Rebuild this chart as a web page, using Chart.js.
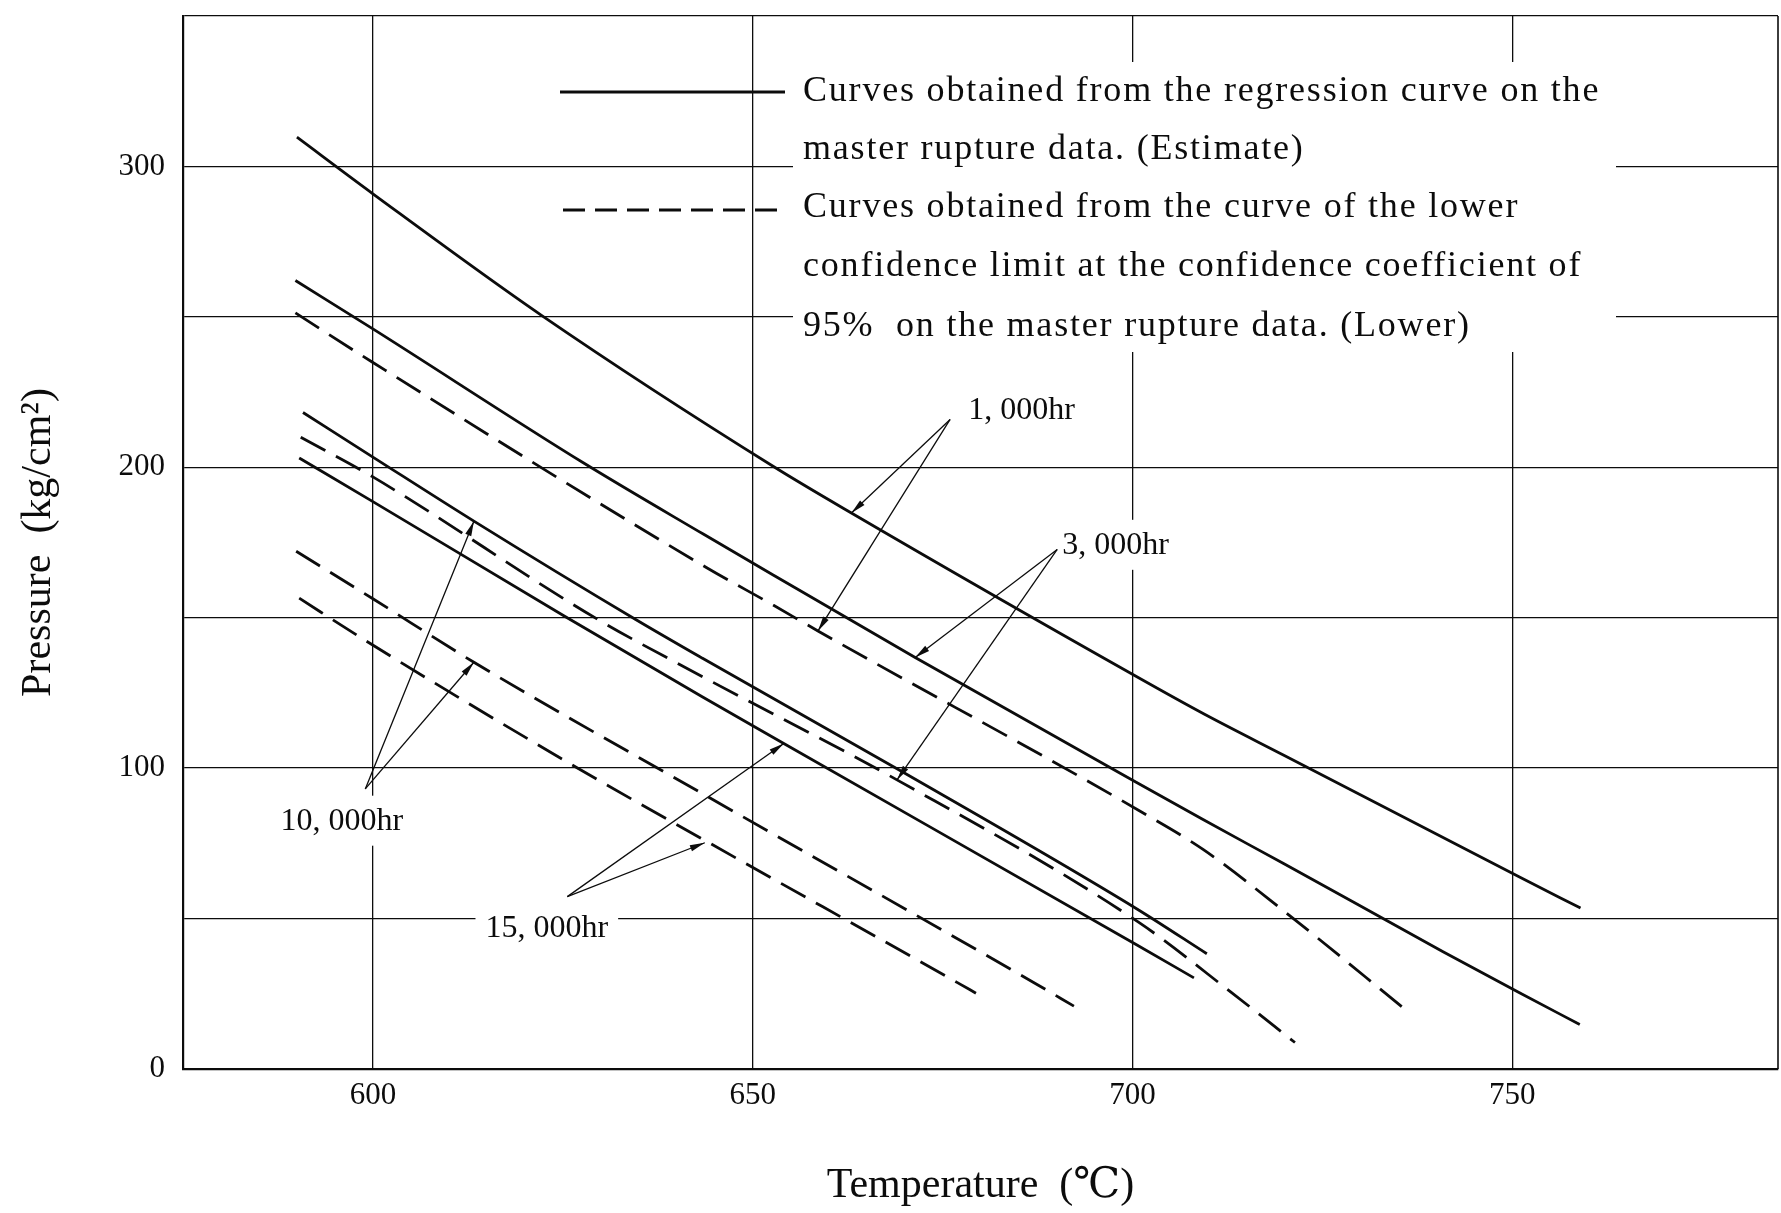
<!DOCTYPE html>
<html>
<head>
<meta charset="utf-8">
<title>Rupture pressure vs temperature</title>
<script src="https://cdn.jsdelivr.net/npm/chart.js@4.4.1/dist/chart.umd.min.js"></script>
<style>
  html, body { margin: 0; padding: 0; background: #fff; }
  #chartBox { width: 1781px; height: 1213px; }
</style>
</head>
<body>
<div id="chartBox"><canvas id="pressureChart"></canvas></div>
<script>
const SERIF = "'Liberation Serif', 'DejaVu Serif', 'Noto Sans CJK JP', serif";
const INK = "#0c0c0c";

// [temperature °C, pressure kg/cm²] along each curve
// regression curves (Estimate)
const est1000 = [[590, 309.7], [600, 290.9], [622.2, 250.5], [652.9, 200], [663, 184.8], [700.7, 130.2], [709.5, 117.9], [720, 104.2], [750.9, 63.9], [759, 53.5]];
const est3000 = [[589.8, 262.1], [600, 246], [627.7, 201.5], [643.5, 177.8], [652.7, 164.2], [671.4, 136.8], [700.5, 95.3], [709.3, 82.9], [719.9, 68.3], [740.9, 39], [750.9, 25.4], [758.9, 14.8]];
const est10000 = [[590.8, 218.2], [600, 203.4], [613.3, 182.1], [634.6, 149.4], [643.4, 136.5], [669.7, 98.8], [700.6, 53.2], [709.8, 38.3]];
const est15000 = [[590.3, 203.1], [600, 188.6], [625.3, 150.4], [643.3, 123.8], [654.1, 108.2], [700.6, 41.2], [708.1, 30.3]];

// lower confidence limit curves (Lower)
const low1000 = [[589.8, 251.3], [599.9, 235], [643.9, 166.7], [652.7, 154.2], [658.6, 145.6], [700.8, 86], [709.3, 73], [719.8, 52.8], [736.2, 19.2]];
const low3000 = [[590.5, 210], [600, 196.8], [629.5, 149.6], [643.4, 130.4], [669, 96.1], [700.8, 48.8], [713.1, 25.3], [721.4, 8.8]];
const low10000 = [[589.9, 172.1], [600, 156.3], [613.3, 135.2], [644.1, 90.5], [687.1, 28.6], [692.3, 20.9]];
const low15000 = [[590.3, 156.5], [598.9, 142.6], [627.1, 99.8], [643.2, 76.7], [676.9, 28.8], [679.4, 25.2]];

const xGrid = [600, 650, 700, 750];
const yGrid = [0, 50, 100, 150, 200, 250, 300, 350];
const yLabelled = [0, 100, 200, 300];

const legendRows = [
  "Curves obtained from the regression curve on the",
  "master rupture data. (Estimate)",
  "Curves obtained from the curve of the lower",
  "confidence limit at the confidence coefficient of",
  "95%  on the master rupture data. (Lower)"
];

// hour labels: text position, arrow start, arrow tips (all in °C / kg/cm²)
const hourLabels = [
  { text: "1, 000hr", at: [685.4, 219], from: [676, 215.9], to: [[663, 184.8], [658.6, 145.6]] },
  { text: "3, 000hr", at: [697.8, 173.9], from: [690.1, 172.7], to: [[671.4, 136.8], [669, 96.1]] },
  { text: "10, 000hr", at: [595.9, 82.2], from: [599, 93.1], to: [[613.3, 182.1], [613.3, 135.2]] },
  { text: "15, 000hr", at: [622.9, 46.7], from: [625.6, 57.3], to: [[654.1, 108.2], [643.7, 75.2]] }
];

const DASH = [28, 12];
const KEY_DASH = [22, 10];

function toPoints(pairs) {
  return pairs.map(p => ({ x: p[0], y: p[1] }));
}

function curve(label, pairs, dashed) {
  return {
    label: label,
    data: toPoints(pairs),
    borderColor: INK,
    borderWidth: 2.8,
    borderDash: dashed ? DASH : [],
    pointRadius: 0,
    cubicInterpolationMode: "monotone",
    fill: false
  };
}

function drawArrow(ctx, x0, y0, x1, y1) {
  ctx.beginPath();
  ctx.moveTo(x0, y0);
  ctx.lineTo(x1, y1);
  ctx.stroke();
  let ang = Math.atan2(y1 - y0, x1 - x0);
  let len = 15, half = 3.2;
  let bx = x1 - len * Math.cos(ang), by = y1 - len * Math.sin(ang);
  ctx.beginPath();
  ctx.moveTo(x1, y1);
  ctx.lineTo(bx + half * Math.sin(ang), by - half * Math.cos(ang));
  ctx.lineTo(bx - half * Math.sin(ang), by + half * Math.cos(ang));
  ctx.closePath();
  ctx.fill();
}

// legend block and hour labels drawn on top of the grid
const notesPlugin = {
  id: "notes",
  beforeDatasetsDraw(chart) {
    let ctx = chart.ctx;
    let area = chart.chartArea;
    let sx = chart.scales.x, sy = chart.scales.y;
    ctx.save();

    // right frame edge
    ctx.strokeStyle = INK;
    ctx.lineWidth = 1.6;
    ctx.beginPath();
    ctx.moveTo(area.right, area.top);
    ctx.lineTo(area.right, area.bottom);
    ctx.stroke();

    // legend background
    ctx.fillStyle = "#fff";
    ctx.fillRect(793, 62, 823, 290);

    // label backgrounds
    ctx.font = "32px " + SERIF;
    hourLabels.forEach(item => {
      let cx = sx.getPixelForValue(item.at[0]);
      let cy = sy.getPixelForValue(item.at[1]);
      let w = ctx.measureText(item.text).width;
      ctx.fillRect(cx - w / 2 - 10, cy - 26, w + 20, 50);
    });
    ctx.restore();
  },
  afterDatasetsDraw(chart) {
    let ctx = chart.ctx;
    let sx = chart.scales.x, sy = chart.scales.y;
    ctx.save();
    ctx.strokeStyle = INK;
    ctx.fillStyle = INK;

    // legend samples
    ctx.lineWidth = 2.8;
    ctx.beginPath();
    ctx.moveTo(560, 92);
    ctx.lineTo(785, 92);
    ctx.stroke();
    ctx.setLineDash(KEY_DASH);
    ctx.beginPath();
    ctx.moveTo(563, 210);
    ctx.lineTo(785, 210);
    ctx.stroke();
    ctx.setLineDash([]);

    // legend text
    let rowY = [92, 150, 208, 267, 327];
    ctx.font = "36px " + SERIF;
    ctx.letterSpacing = "1.8px";
    ctx.textAlign = "left";
    ctx.textBaseline = "middle";
    legendRows.forEach((row, i) => {
      ctx.fillText(row, 803, rowY[i]);
    });
    ctx.letterSpacing = "0px";

    // hour labels with arrows
    ctx.lineWidth = 1.3;
    ctx.font = "32px " + SERIF;
    ctx.textAlign = "center";
    hourLabels.forEach(item => {
      let fx = sx.getPixelForValue(item.from[0]);
      let fy = sy.getPixelForValue(item.from[1]);
      item.to.forEach(t => {
        drawArrow(ctx, fx, fy, sx.getPixelForValue(t[0]), sy.getPixelForValue(t[1]));
      });
      ctx.fillText(item.text, sx.getPixelForValue(item.at[0]), sy.getPixelForValue(item.at[1]));
    });
    ctx.restore();
  }
};

function renderChart() {
  let ctx = document.getElementById("pressureChart");
  new Chart(ctx, {
    type: "line",
    data: {
      datasets: [
        curve("1,000hr", est1000, false),
        curve("3,000hr", est3000, false),
        curve("10,000hr", est10000, false),
        curve("15,000hr", est15000, false),
        curve("1,000hr lower", low1000, true),
        curve("3,000hr lower", low3000, true),
        curve("10,000hr lower", low10000, true),
        curve("15,000hr lower", low15000, true)
      ]
    },
    options: {
      responsive: true,
      maintainAspectRatio: false,
      animation: false,
      devicePixelRatio: 1,
      layout: { padding: { top: 16, right: 3, left: 0, bottom: 0 } },
      plugins: {
        legend: { display: false },
        tooltip: { enabled: false }
      },
      scales: {
        x: {
          type: "linear",
          min: 575,
          max: 785,
          afterBuildTicks: axis => { axis.ticks = xGrid.map(v => ({ value: v })); },
          afterFit: axis => {
            axis.height = 144;
            axis.paddingLeft = 0;
            axis.paddingRight = 0;
          },
          grid: { color: INK, lineWidth: 1.3, drawTicks: false },
          border: { display: true, color: INK, width: 2.2 },
          ticks: {
            color: INK,
            padding: 8,
            maxRotation: 0,
            autoSkip: false,
            font: { family: SERIF, size: 31 }
          },
          title: {
            display: true,
            text: "Temperature  (℃)",
            color: INK,
            font: { family: SERIF, size: 42 },
            padding: { top: 0, bottom: 2 }
          }
        },
        y: {
          min: 0,
          max: 350,
          afterBuildTicks: axis => { axis.ticks = yGrid.map(v => ({ value: v })); },
          afterFit: axis => {
            axis.width = 183;
            axis.paddingTop = 0;
            axis.paddingBottom = 0;
          },
          grid: { color: INK, lineWidth: 1.3, drawTicks: false },
          border: { display: true, color: INK, width: 2.2 },
          ticks: {
            color: INK,
            padding: 18,
            font: { family: SERIF, size: 31 },
            callback: v => (yLabelled.includes(v) ? String(v) : "")
          },
          title: {
            display: true,
            text: "Pressure  (kg/cm²)",
            color: INK,
            font: { family: SERIF, size: 42 },
            padding: { top: 14, bottom: 0 }
          }
        }
      }
    },
    plugins: [notesPlugin]
  });
}

renderChart();
</script>
</body>
</html>
